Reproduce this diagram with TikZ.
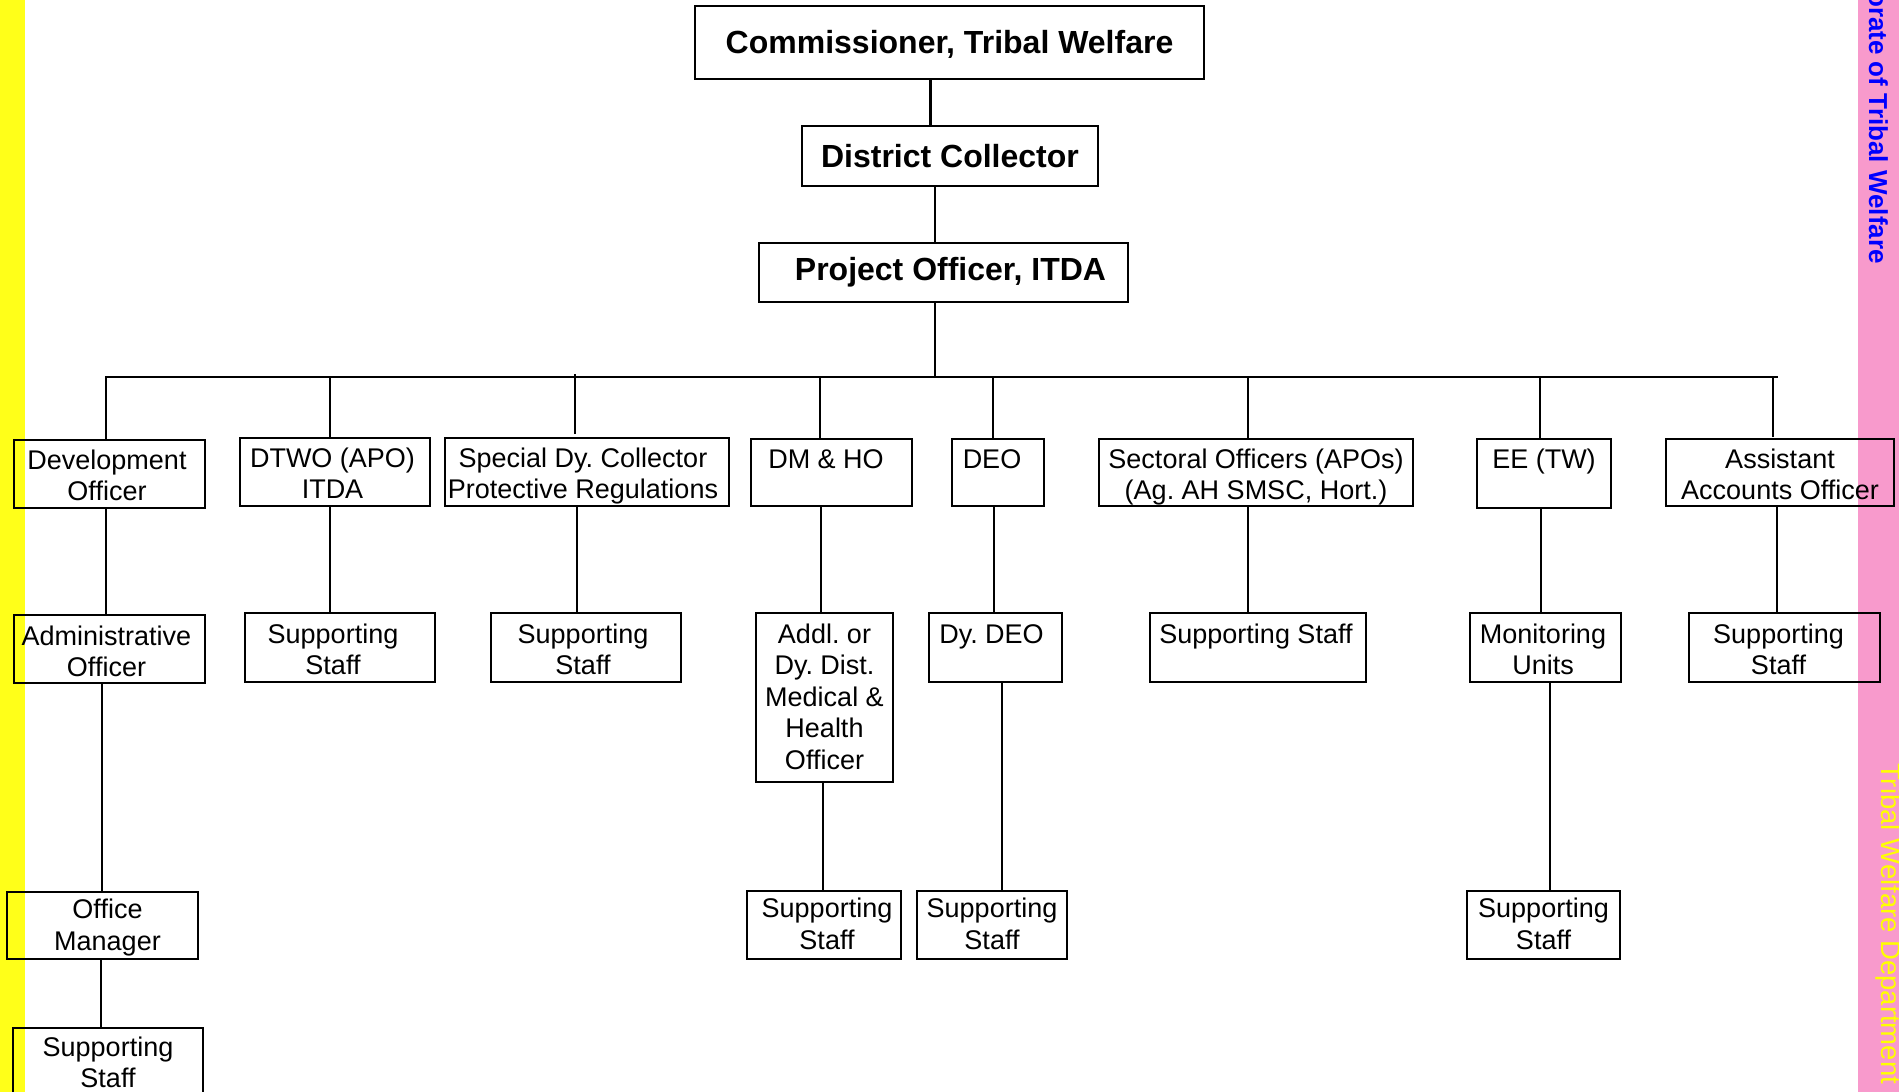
\documentclass[tikz,border=0pt]{standalone}
\usepackage{fontspec}
\setmainfont{Liberation Sans}
\frenchspacing
\definecolor{pinkbar}{RGB}{248,154,204}
\definecolor{yelbar}{RGB}{255,255,25}
\definecolor{bluetxt}{RGB}{0,0,255}
\definecolor{yeltxt}{RGB}{255,255,0}
\tikzset{
  orgbox/.style={draw=black, line width=2.6pt, inner sep=0pt, outer sep=0pt, anchor=north west, rectangle},
  titlebox/.style={draw=black, line width=2.6pt, inner sep=0pt, outer sep=0pt, anchor=north west, rectangle,
    font=\fontsize{32}{36}\selectfont\bfseries, text height=23pt},
  conn/.style={draw=black, line width=2.2pt},
  bus/.style={draw=black, line width=2.2pt, line cap=rect},
}
\def\bsl{28}
% name, x1, y1, x2, y2, rightskip (2 x left shift of text), text
\newcommand\obox[7]{\node[orgbox] (#1) at (#2,#3) {\parbox[t][\dimexpr#5pt-#3pt\relax][t]{\dimexpr#4pt-#2pt\relax}{\frenchspacing\centering\rightskip=#6pt plus 1fil\fontsize{27}{31.6}\selectfont\rule{0pt}{\bsl pt}#7}};}
\newcommand\vconn[3]{\draw[conn] ([xshift=#3]#1.south) -- ([xshift=#3]#1.south |- #2.north);}
\begin{document}
\begin{tikzpicture}[x=1pt,y=-1pt]
\useasboundingbox (0,0) rectangle (1899,1092);
% side bars
\fill[yelbar] (0,0) rectangle (25,1092);
\fill[pinkbar] (1858,0) rectangle (1899,1092);
\node[rotate=-90, anchor=base east, text=bluetxt, font=\fontsize{26}{30}\selectfont\bfseries, inner sep=0pt] (dirtxt) at (1869,264) {Directorate of Tribal Welfare};
\node[rotate=-90, anchor=base west, text=yeltxt, font=\fontsize{27.5}{31}\selectfont, inner sep=0pt] (depttxt) at (1881,763) {Tribal Welfare Department};
% top chain
\node[titlebox, minimum width=509pt, minimum height=73pt, text depth=2pt] (comm) at (695,6) {Commissioner, Tribal Welfare};
\node[titlebox, minimum width=296pt, minimum height=60pt, text depth=0pt] (dc) at (802,126) {District Collector};
\node[titlebox, minimum width=369pt, minimum height=59pt, text depth=7pt] (po) at (759,243) {\hspace*{14pt}Project Officer, ITDA};
% level 4
\def\bsl{29}
\obox{dev}{14}{440}{205}{508}{5}{Development\\Officer}
\obox{dtwo}{240}{438}{430}{506}{5}{DTWO (APO)\\ITDA}
\obox{spc}{445}{438}{729}{506}{8}{Special Dy. Collector\\Protective Regulations}
\obox{dm}{751}{439}{912}{506}{11}{DM \& HO}
\obox{deo}{952}{439}{1044}{506}{12}{DEO}
\obox{sec}{1099}{439}{1413}{506}{0}{Sectoral Officers (APOs)\\(Ag. AH SMSC, Hort.)}
\obox{ee}{1477}{439}{1611}{508}{0}{EE (TW)}
\obox{aao}{1666}{439}{1894}{506}{0}{Assistant\\Accounts Officer}
% level 5
\def\bsl{30}
\obox{adm}{14}{615}{205}{683}{6}{Administrative\\Officer}
\obox{ssa}{245}{613}{435}{682}{14}{Supporting\\Staff}
\obox{ssb}{491}{613}{681}{682}{6}{Supporting\\Staff}
\obox{addl}{756}{613}{893}{782}{0}{Addl. or\\Dy. Dist.\\Medical \&\\Health\\Officer}
\obox{dydeo}{929}{613}{1062}{682}{8}{Dy. DEO}
\obox{ssc}{1150}{613}{1366}{682}{4}{Supporting Staff}
\obox{mon}{1470}{613}{1621}{682}{5}{Monitoring\\Units}
\obox{ssd}{1689}{613}{1880}{682}{12}{Supporting\\Staff}
% level 6
\def\bsl{26.5}
\obox{om}{7}{892}{198}{959}{-10}{Office\\Manager}
\obox{sse}{747}{891}{901}{959}{-6}{Supporting\\Staff}
\obox{ssf}{917}{891}{1067}{959}{0}{Supporting\\Staff}
\obox{ssg}{1467}{891}{1620}{959}{0}{Supporting\\Staff}
% level 7
\def\bsl{28}
\obox{ssh}{13}{1028}{203}{1096}{0}{Supporting\\Staff}
% connectors top
\vconn{comm}{dc}{-19}
\vconn{dc}{po}{-15}
\coordinate (busL) at (106,377);
\coordinate (busR) at (1777,377);
\draw[conn] ([xshift=-8.5]po.south) -- ([xshift=-8.5]po.south |- busL);
\draw[bus] (busL) -- (busR);
% stubs from bus
\draw[conn] ([xshift=-3.5]dev.north) -- ([xshift=-3.5]dev.north |- busL);
\draw[conn] ([xshift=-5]dtwo.north) -- ([xshift=-5]dtwo.north |- busL);
\coordinate (spctop) at ([xshift=-12]spc.north |- busL);
\draw[conn] ([xshift=-12,yshift=4]spc.north) -- ([yshift=3]spctop);
\draw[conn] ([xshift=-11.5]dm.north) -- ([xshift=-11.5]dm.north |- busL);
\draw[conn] ([xshift=-5]deo.north) -- ([xshift=-5]deo.north |- busL);
\draw[conn] ([xshift=-8]sec.north) -- ([xshift=-8]sec.north |- busL);
\draw[conn] ([xshift=-4]ee.north) -- ([xshift=-4]ee.north |- busL);
\draw[conn] ([xshift=-7,yshift=2]aao.north) -- ([xshift=-7]aao.north |- busL);
% level 4 -> 5
\vconn{dev}{adm}{-3.5}
\vconn{dtwo}{ssa}{-5}
\vconn{spc}{ssb}{-10}
\vconn{dm}{addl}{-10.5}
\vconn{deo}{dydeo}{-4}
\vconn{sec}{ssc}{-8}
\vconn{ee}{mon}{-3}
\vconn{aao}{ssd}{-3}
% level 5 -> 6
\vconn{adm}{om}{-7.5}
\vconn{addl}{sse}{-1.5}
\vconn{dydeo}{ssf}{6.5}
\vconn{mon}{ssg}{4.5}
% level 6 -> 7
\vconn{om}{ssh}{-1.5}
\end{tikzpicture}
\end{document}
